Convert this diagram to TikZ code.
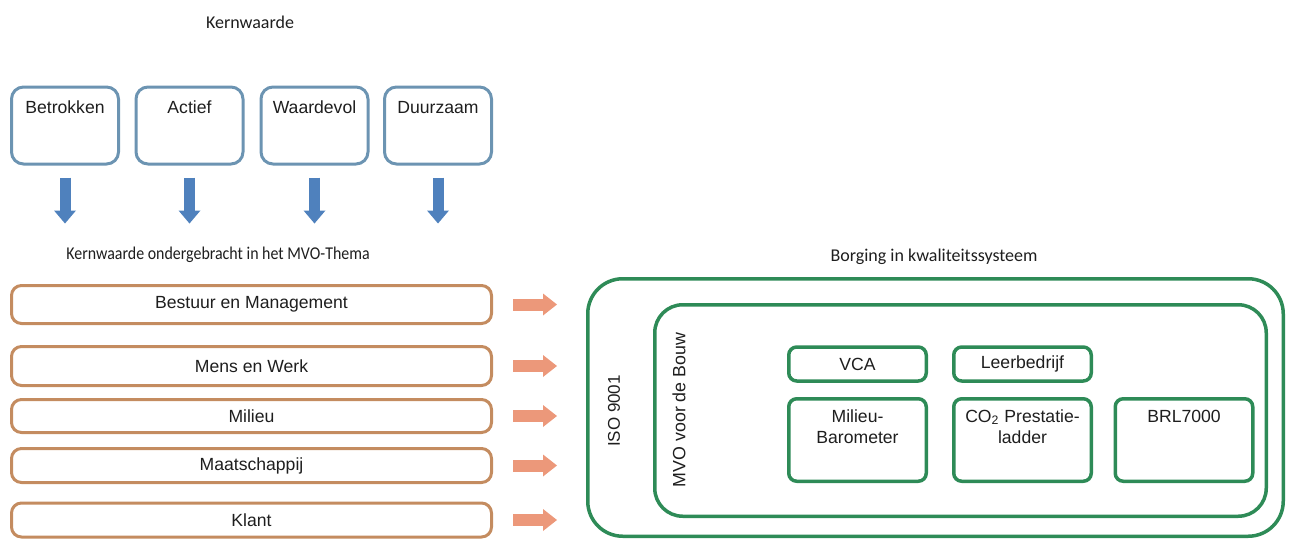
\documentclass[tikz,border=0pt]{standalone}
\usepackage{fontspec}
\setmainfont{Liberation Sans}
\newfontfamily\calibri{Carlito}
\usetikzlibrary{arrows.meta}
\definecolor{kernline}{RGB}{108,148,178}
\definecolor{kernarrow}{RGB}{79,129,189}
\definecolor{themeline}{RGB}{196,140,96}
\definecolor{themearrow}{RGB}{236,152,122}
\definecolor{borgline}{RGB}{46,139,87}
\definecolor{txt}{RGB}{30,30,30}
\begin{document}
\begin{tikzpicture}[x=0.5pt, y=-0.5pt, text=txt,
  head/.style={font=\calibri\fontsize{9}{11}\selectfont},
  kern/.style={draw=kernline, line width=1.5pt, rounded corners=6pt, inner sep=0pt,
    minimum width=53.5pt, minimum height=38.5pt, font=\fontsize{8.8}{10.5}\selectfont,
    text height=6.3pt, text depth=18.7pt},
  kernpijl/.style={draw=kernarrow, line width=5.5pt,
    -{Triangle[width=11pt, length=6.5pt, line width=0pt, fill=kernarrow]}},
  thema/.style={draw=themeline, line width=1.5pt, rounded corners=5pt,
    minimum width=240pt, font=\fontsize{8.8}{10.5}\selectfont},
  themapijl/.style={draw=themearrow, line width=6pt,
    -{Triangle[width=11pt, length=7pt, line width=0pt, fill=themearrow]}},
  borg/.style={draw=borgline, line width=1.75pt, inner sep=0pt,
    font=\fontsize{8.8}{10.5}\selectfont},
  klein/.style={borg, rounded corners=4pt, minimum width=68.75pt},
  hoog/.style={klein, minimum height=41.25pt, align=center,
    text height=6.3pt, text depth=23.95pt},
  hoog2/.style={hoog, text height=16.8pt, text depth=13.45pt}]
  \useasboundingbox (0,0) rectangle (1292,541);

  \node[head] (kw) at (250,22) {Kernwaarde};
  \node[kern] (betr) at (65,125.5) {Betrokken};
  \node[kern] (act) at (189.5,125.5) {Actief};
  \node[kern] (waar) at (314.5,125.5) {Waardevol};
  \node[kern] (duur) at (438,125.5) {Duurzaam};
  \foreach \k in {betr,act,waar,duur}
    \draw[kernpijl] ([yshift=-6pt]\k.south) -- ++(0,46);

  \node[head] (mvothema) at (218,255) {\scalebox{0.885}[1]{Kernwaarde ondergebracht in het MVO-Thema}};
  \node[thema, minimum height=19pt] (bestuur) at (251.5,304.5) {Bestuur en Management};
  \node[thema, minimum height=19.5pt] (mens) at (251.5,366) {Mens en Werk};
  \node[thema, minimum height=16.5pt] (milieu) at (251.5,416) {Milieu};
  \node[thema, minimum height=17pt] (maat) at (251.5,465.5) {Maatschappij};
  \node[thema, minimum height=17pt] (klant) at (251.5,520) {Klant};
  \foreach \t in {bestuur,mens,milieu,maat,klant}
    \draw[themapijl] ([xshift=10pt]\t.east) -- ++(44,0);

  \node[head] (borging) at (934,257) {Borging in kwaliteitssysteem};
  \node[borg, rounded corners=17.5pt, minimum width=347.75pt, minimum height=128.75pt] (iso) at (935.5,407.5) {};
  \node[borg, rounded corners=14pt, minimum width=305.75pt, minimum height=105.75pt] (mvob) at (960.5,410.5) {};
  \node[rotate=90, font=\fontsize{8.5}{10}\selectfont] (isotxt) at (614,411) {ISO 9001};
  \node[rotate=90, font=\fontsize{8.9}{10}\selectfont] (mvotxt) at (679,410) {MVO voor de Bouw};
  \node[klein, minimum height=17pt] (vca) at (857.5,364) {VCA};
  \node[klein, minimum height=17pt] (leer) at (1022.5,364) {Leerbedrijf};
  \node[hoog2] (baro) at (857.5,440) {Milieu-\\Barometer};
  \node[hoog2] (co2) at (1022.5,440) {CO\textsubscript{2} Prestatie-\\ladder};
  \node[hoog] (brl) at (1184,440) {BRL7000};
\end{tikzpicture}
\end{document}
